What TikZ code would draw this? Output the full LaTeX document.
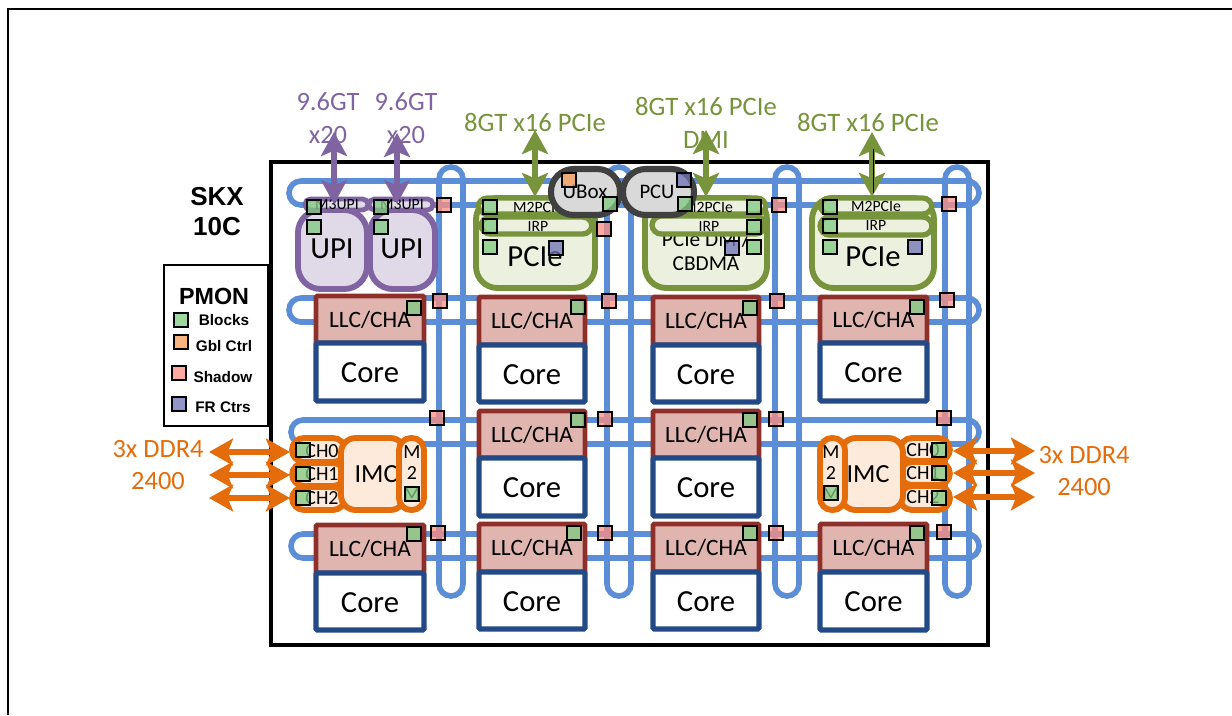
\documentclass[tikz,border=0pt]{standalone}
\usepackage{fontspec}
\setmainfont{Carlito}
\newfontfamily\arialfont{Liberation Sans}
\usetikzlibrary{arrows.meta}
\definecolor{ringblue}{HTML}{5B8ED6}
\definecolor{upiC}{HTML}{8064A2}
\definecolor{upiF}{HTML}{DFD9E8}
\definecolor{pciC}{HTML}{77933C}
\definecolor{pciF}{HTML}{EBF1DE}
\definecolor{llcC}{HTML}{8E3029}
\definecolor{llcF}{HTML}{E0B5B0}
\definecolor{coreC}{HTML}{234A86}
\definecolor{ddrC}{HTML}{E46C0A}
\definecolor{ddrF}{HTML}{FDEADA}
\definecolor{boxC}{HTML}{404040}
\definecolor{boxF}{HTML}{D9D9D9}
\definecolor{sqGreen}{HTML}{80C980}
\definecolor{sqGbl}{HTML}{F69C56}
\definecolor{sqShadow}{HTML}{FF8E80}
\definecolor{sqFR}{HTML}{6E72B6}
\newcommand{\fsz}[1]{\fontsize{#1}{#1}\selectfont}
\tikzset{
  ringbox/.style={draw=ringblue,line width=4.2pt,rounded corners=9pt},
  llcbox/.style={draw=llcC,fill=llcF,line width=3.6pt,font=\fsz{17.6},rounded corners=1pt},
  corebox/.style={draw=coreC,fill=white,line width=3.8pt,font=\fsz{23},text height=16pt,rounded corners=1pt},
  upibody/.style={draw=upiC,fill=upiF,line width=4.4pt,rounded corners=17pt},
  upibar/.style={draw=upiC,fill=upiF,line width=3.6pt,rounded corners=4pt},
  pcibody/.style={draw=pciC,fill=pciF,line width=4.4pt,rounded corners=16pt},
  pcibar/.style={draw=pciC,fill=pciF,line width=4pt,rounded corners=7pt},
  softbox/.style={draw=boxC,fill=boxF,line width=4.6pt,rounded corners=17pt},
  chbar/.style={draw=ddrC,fill=ddrF,line width=4.4pt,rounded corners=9pt},
  imcbox/.style={draw=ddrC,fill=ddrF,line width=4.4pt,rounded corners=11pt},
  m2box/.style={draw=ddrC,fill=ddrF,line width=4.4pt,rounded corners=9pt},
  lbl/.style={inner sep=0pt,align=center},
  small/.style={lbl,font=\fsz{11.8}},
  blockT/.style={lbl,font=\fsz{23}},
  purpleT/.style={lbl,text=upiC,font=\fsz{19.8}},
  greenT/.style={lbl,text=pciC,font=\fsz{20}},
  orangeT/.style={lbl,text=ddrC,font=\fsz{19.8}},
  boldT/.style={lbl,font={\arialfont\bfseries\fsz{19.5}}},
  legT/.style={lbl,font={\arialfont\bfseries\fsz{11.5}}},
  chT/.style={lbl,font=\fsz{15}},
  sqbase/.style={draw=black,line width=1.3pt,minimum size=11pt,inner sep=0pt,fill opacity=.75,draw opacity=1},
  sqg/.style={sqbase,fill=sqGreen},
  sqo/.style={sqbase,fill=sqGbl},
  sqs/.style={sqbase,fill=sqShadow},
  sqf/.style={sqbase,fill=sqFR},
  upiarrow/.style={upiC,line width=5pt,{Stealth[length=18pt,width=19.5pt,inset=4pt]}-{Stealth[length=18pt,width=19.5pt,inset=4pt]}},
  pciarrow/.style={pciC,line width=5pt,{Stealth[length=18pt,width=19.5pt,inset=4pt]}-{Stealth[length=18pt,width=19.5pt,inset=4pt]}},
  ddrarrow/.style={ddrC,line width=4.8pt,{Stealth[length=18pt,width=20pt,inset=4pt]}-{Stealth[length=18pt,width=20pt,inset=4pt]}},
}
% box by its outline: name, style, x1, y1, x2, y2, text
\newcommand{\bx}[7]{%
  \pgfmathsetmacro\bcx{(#3+#5)/2}\pgfmathsetmacro\bcy{(#4+#6)/2}%
  \pgfmathsetmacro\bw{(#5-#3)*.75}\pgfmathsetmacro\bh{(#6-#4)*.75}%
  \node[#2,inner sep=0pt,align=center,minimum width=\bw pt,minimum height=\bh pt] (#1) at (\bcx,\bcy) {#7};}
% LLC + core cell: name, x1, x2, ytop, ymid, ybot
\newcommand{\cell}[6]{%
  \bx{#1llc}{llcbox}{#2}{#4}{#3}{#5}{LLC/CHA}%
  \bx{#1core}{corebox}{#2}{#5}{#3}{#6}{Core}}
\newcommand{\sq}[4]{\node[#2] (#1) at (#3,#4) {};}
\begin{document}
\begin{tikzpicture}[x=.75pt,y=-.75pt]
\useasboundingbox (0,0) rectangle (1232,715);
% outer frame
\coordinate (frameTL) at (8,9);
\coordinate (frameTR) at (1232,9);
\coordinate (frameBL) at (8,715);
\draw[line width=1.5pt] (frameBL) -- (frameTL) -- (frameTR);
% chip
\bx{chip}{draw=black,line width=2.4pt}{271}{162}{988}{645}{}
% rings
\bx{h1}{ringbox}{289}{181}{979}{205}{}
\bx{h2}{ringbox}{289}{298}{979}{322}{}
\bx{h3}{ringbox}{291}{420}{979}{444}{}
\bx{h4}{ringbox}{291}{534}{979}{558}{}
\bx{v1}{ringbox}{439}{167}{463}{596}{}
\bx{v2}{ringbox}{607}{167}{631}{596}{}
\bx{v3}{ringbox}{775}{167}{799}{596}{}
\bx{v4}{ringbox}{945}{167}{969}{596}{}
% UPI
\bx{upiA}{upibody}{298}{210}{367}{289}{}
\bx{upiB}{upibody}{370}{210}{435}{289}{}
\node[blockT] (upiAt) at (332,249) {UPI};
\node[blockT] (upiBt) at (402,249) {UPI};
\bx{m3A}{upibar}{305}{199}{368}{210}{}
\bx{m3B}{upibar}{369}{199}{433}{210}{}
\node[small] (m3At) at (337,204) {M3UPI};
\node[small] (m3Bt) at (402,204) {M3UPI};
% PCIe bodies
\bx{pciA}{pcibody}{476}{198}{595}{288}{}
\node[blockT] (pciAt) at (535,257) {PCIe};
\bx{pciB}{pcibody}{645}{198}{767}{288}{}
\node[lbl,font=\fsz{16}] (pciBtA) at (706,240) {PCIe DMI/};
\node[lbl,font=\fsz{16}] (pciBtB) at (706,264) {CBDMA};
\bx{pciC}{pcibody}{812}{198}{934}{288}{}
\node[blockT] (pciCt) at (873,257) {PCIe};
\bx{m2A}{pcibar}{478}{198}{594}{214}{}
\node[small] (m2At) at (538,207) {M2PCIe};
\bx{irpA}{pcibar}{481}{217}{592}{234}{}
\node[small] (irpAt) at (538,226) {IRP};
\bx{m2B}{pcibar}{650}{198}{766}{214}{}
\node[small] (m2Bt) at (708,207) {M2PCIe};
\bx{irpB}{pcibar}{652}{216}{765}{234}{}
\node[small] (irpBt) at (709,226) {IRP};
\bx{m2C}{pcibar}{820}{198}{932}{214}{}
\node[small] (m2Ct) at (876,206) {M2PCIe};
\bx{irpC}{pcibar}{820}{217}{932}{235}{}
\node[small] (irpCt) at (876,225) {IRP};
% LLC / core cells
\cell{a1}{316}{424}{296}{343}{401}
\cell{b1}{479}{585}{297}{345}{402}
\cell{c1}{653}{759}{297}{345}{402}
\cell{d1}{820}{927}{297}{343}{401}
\cell{b2}{479}{585}{411}{458}{516}
\cell{c2}{653}{759}{411}{458}{516}
\cell{a4}{316}{424}{525}{573}{630}
\cell{b4}{479}{585}{524}{572}{629}
\cell{c4}{653}{759}{524}{572}{629}
\cell{d4}{820}{927}{524}{572}{630}
% left IMC
\bx{chL0}{chbar}{292}{438}{345}{462}{}
\bx{chL1}{chbar}{292}{463}{345}{486}{}
\bx{chL2}{chbar}{292}{487}{345}{510}{}
\node[chT] (chL0t) at (322,451) {CH0};
\node[chT] (chL1t) at (322,474) {CH1};
\node[chT] (chL2t) at (322,498) {CH2};
\bx{imcL}{imcbox}{341}{438}{405}{510}{}
\node[lbl,font=\fsz{19.6}] (imcLt) at (376,474) {IMC};
\bx{m2L}{m2box}{399}{438}{424}{510}{}
\node[chT] (m2Lt) at (412,473) {M\\[1pt]2\\[1pt]M};
% right IMC
\bx{chR0}{chbar}{900}{438}{950}{461}{}
\bx{chR1}{chbar}{900}{462}{950}{485}{}
\bx{chR2}{chbar}{900}{486}{950}{510}{}
\node[chT] (chR0t) at (923,450) {CH0};
\node[chT] (chR1t) at (923,473) {CH1};
\node[chT] (chR2t) at (923,497) {CH2};
\bx{imcR}{imcbox}{841}{438}{903}{510}{}
\node[lbl,font=\fsz{19.6}] (imcRt) at (868,474) {IMC};
\bx{m2R}{m2box}{820}{438}{845}{510}{}
\node[chT] (m2Rt) at (831,473) {M\\[1pt]2\\[1pt]M};
% arrows
\coordinate (ua1) at (334,132); \coordinate (ua2) at (334,204);
\coordinate (ub1) at (397,133); \coordinate (ub2) at (397,204);
\coordinate (pa1) at (535,130); \coordinate (pa2) at (535,197);
\coordinate (pb1) at (706,130); \coordinate (pb2) at (706,197);
\coordinate (pc1) at (872,132); \coordinate (pc2) at (872,197);
\coordinate (pcl1) at (873,149); \coordinate (pcl2) at (873,193);
\draw[upiarrow] (ua1) -- (ua2);
\draw[upiarrow] (ub1) -- (ub2);
\draw[pciarrow] (pa1) -- (pa2);
\draw[pciarrow] (pb1) -- (pb2);
\draw[pciarrow,line width=4.4pt] (pc1) -- (pc2);
\draw[black,line width=.7pt] (pcl1) -- (pcl2);
\coordinate (dl0a) at (209,452); \coordinate (dl0b) at (290,452);
\coordinate (dl1a) at (209,475); \coordinate (dl1b) at (290,475);
\coordinate (dl2a) at (209,498); \coordinate (dl2b) at (290,498);
\coordinate (dr0a) at (953,451); \coordinate (dr0b) at (1035,451);
\coordinate (dr1a) at (953,473); \coordinate (dr1b) at (1035,473);
\coordinate (dr2a) at (953,497); \coordinate (dr2b) at (1035,497);
\foreach \p/\q in {dl0a/dl0b,dl1a/dl1b,dl2a/dl2b,dr0a/dr0b,dr1a/dr1b,dr2a/dr2b}
  \draw[ddrarrow] (\p) -- (\q);
% UBox, PCU
\bx{ubox}{softbox}{551}{169}{620}{215}{}
\node[lbl,font=\fsz{15.8}] (uboxt) at (585,192) {UBox};
\bx{pcu}{softbox}{623}{169}{694}{215}{}
\node[lbl,font=\fsz{15.5}] (pcut) at (657,192) {PCU};
% texts
\node[purpleT] (t1) at (328,118) {9.6GT\\[4.5pt]x20};
\node[purpleT] (t2) at (406,118) {9.6GT\\[4.5pt]x20};
\node[greenT] (t3) at (535,122) {8GT x16 PCIe};
\node[greenT] (t4) at (706,123) {8GT x16 PCIe\\[4.5pt]DMI};
\node[greenT] (t5) at (868,122) {8GT x16 PCIe};
\node[orangeT] (t6) at (158,465) {3x DDR4\\[4.5pt]2400};
\node[orangeT] (t7) at (1084,471) {3x DDR4\\[4.5pt]2400};
\node[boldT] (t8) at (217,212) {SKX\\[3pt]10C};
% legend
\bx{legend}{draw=black,line width=1.2pt}{164}{265}{268}{426}{}
\node[lbl,font={\arialfont\bfseries\fsz{17.5}}] (legT) at (214,296) {PMON};
\sq{l1}{sqg}{181}{320}
\sq{l2}{sqo}{181}{342}
\sq{l3}{sqs}{179}{373}
\sq{l4}{sqf}{179}{404}
\node[legT] (lt1) at (224,320) {Blocks};
\node[legT] (lt2) at (224,346) {Gbl Ctrl};
\node[legT] (lt3) at (223,377) {Shadow};
\node[legT] (lt4) at (223,407) {FR Ctrs};
% PMON squares
\sq{s1}{sqg}{314}{207} \sq{s2}{sqg}{314}{227} \sq{s3}{sqg}{381}{207} \sq{s4}{sqg}{381}{227}
\sq{s5}{sqs}{444}{205}
\sq{s6}{sqg}{490}{207} \sq{s7}{sqg}{490}{226} \sq{s8}{sqg}{490}{247} \sq{s9}{sqf}{556}{248}
\sq{s10}{sqs}{604}{229} \sq{s11}{sqo}{569}{180} \sq{s12}{sqg}{610}{204}
\sq{s13}{sqf}{684}{180} \sq{s14}{sqg}{685}{204}
\sq{s15}{sqg}{754}{207} \sq{s16}{sqg}{754}{227} \sq{s17}{sqg}{754}{247} \sq{s18}{sqf}{732}{248}
\sq{s19}{sqs}{779}{205}
\sq{s20}{sqg}{830}{207} \sq{s21}{sqg}{830}{226} \sq{s22}{sqg}{830}{247} \sq{s23}{sqf}{915}{247}
\sq{s24}{sqs}{949}{204}
% row 1
\sq{r1}{sqg}{414}{308} \sq{r2}{sqs}{440}{301} \sq{r3}{sqg}{578}{307} \sq{r4}{sqs}{609}{301}
\sq{r5}{sqg}{750}{308} \sq{r6}{sqs}{777}{301} \sq{r7}{sqg}{917}{307} \sq{r8}{sqs}{947}{300}
% row 2
\sq{q1}{sqs}{437}{418} \sq{q2}{sqg}{578}{420} \sq{q3}{sqs}{605}{419}
\sq{q4}{sqg}{750}{420} \sq{q5}{sqs}{776}{419} \sq{q6}{sqs}{944}{418}
% row 4
\sq{p1}{sqg}{414}{534} \sq{p2}{sqs}{438}{533} \sq{p3}{sqg}{574}{533} \sq{p4}{sqs}{605}{533}
\sq{p5}{sqg}{750}{533} \sq{p6}{sqs}{776}{533} \sq{p7}{sqg}{917}{533} \sq{p8}{sqs}{944}{532}
% IMC squares
\sq{i1}{sqg}{303}{450} \sq{i2}{sqg}{303}{474} \sq{i3}{sqg}{303}{498} \sq{i4}{sqg}{412}{494}
\sq{i5}{sqg}{831}{493} \sq{i6}{sqg}{939}{450} \sq{i7}{sqg}{939}{473} \sq{i8}{sqg}{939}{498}
\end{tikzpicture}
\end{document}
